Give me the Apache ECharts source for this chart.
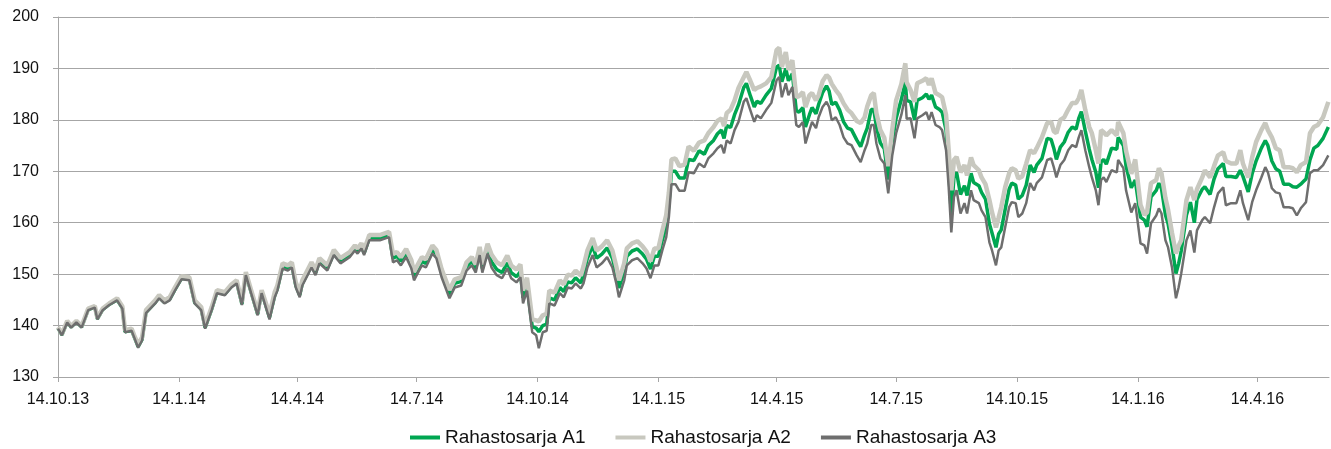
<!DOCTYPE html>
<html>
<head>
<meta charset="utf-8">
<script src="https://cdn.jsdelivr.net/npm/echarts@6/dist/echarts.min.js"></script>
<style>
  html, body { margin: 0; padding: 0; background: #fff; }
  #main { width: 1331px; height: 449px; }
</style>
</head>
<body>
<div id="main"></div>
<script>
// days since 14.10.2013
const startDate = '2013-10-14';
const days = [
    0, 3, 7, 10, 14, 18, 23, 28, 30, 34,
    39, 45, 49, 51, 56, 58, 61, 64, 67, 74,
    77, 81, 85, 89, 94, 100, 104, 109, 112, 117,
    121, 127, 132, 136, 140, 143, 147, 152, 155, 161,
    165, 167, 171, 175, 178, 181, 184, 186, 193, 196,
    199, 205, 210, 215, 222, 226, 228, 231, 233, 237,
    245, 252, 255, 258, 261, 265, 269, 271, 274, 277,
    280, 285, 288, 292, 298, 302, 307, 311, 315, 318,
    321, 323, 327, 330, 334, 338, 342, 345, 349, 352,
    354, 357, 361, 364, 366, 369, 372, 374, 378, 382,
    385, 388, 391, 394, 398, 400, 403, 407, 410, 414,
    418, 422, 425, 427, 431, 433, 437, 441, 445, 448,
    451, 454, 457, 460, 463, 465, 467, 470, 473, 477,
    480, 484, 488, 492, 495, 499, 502, 505, 507, 509,
    512, 515, 518, 522, 524, 527, 530, 532, 535, 539,
    543, 547, 549, 551, 554, 556, 559, 562, 564, 567,
    569, 572, 574, 577, 579, 582, 585, 587, 589, 592,
    595, 598, 601, 604, 608, 611, 614, 616, 619, 621,
    623, 626, 629, 632, 635, 638, 642, 645, 646, 649,
    652, 654, 658, 661, 663, 665, 668, 671, 673, 676,
    678, 680, 682, 684, 687, 690, 692, 695, 697, 701,
    703, 706, 709, 711, 714, 716, 718, 721, 724, 726,
    729, 731, 734, 737, 740, 743, 745, 749, 753, 756,
    758, 760, 763, 766, 769, 772, 775, 777, 779, 782,
    785, 787, 790, 792, 794, 796, 798, 802, 806, 807,
    811, 813, 817, 820, 824, 827, 829, 832, 836, 838,
    840, 843, 845, 848, 851, 853, 855, 859, 862, 865,
    867, 871, 873, 877, 880, 883, 887, 889, 893, 897,
    900, 902, 906, 909, 912, 916, 919, 921, 924, 927,
    930, 933, 937, 940, 943, 946, 948, 950, 953, 956,
    959, 963, 967
];

const seriesA1 = [
    139.5, 138.2, 140.7, 139.7, 140.7, 139.7, 143.1, 143.6, 141.3, 143.1,
    144.1, 145.0, 143.4, 138.8, 139.1, 137.8, 135.9, 137.3, 142.6, 144.5,
    145.5, 144.5, 145.1, 147.0, 149.2, 149.0, 144.5, 143.2, 139.6, 143.2,
    146.5, 146.1, 147.6, 148.4, 144.2, 150.0, 146.5, 142.2, 146.5, 141.6,
    145.9, 147.2, 151.5, 151.1, 151.7, 147.8, 145.9, 148.2, 151.7, 150.2,
    152.5, 151.1, 154.1, 152.5, 153.7, 155.0, 154.4, 155.4, 154.1, 157.0,
    157.0, 157.6, 153.1, 153.5, 152.5, 154.1, 151.9, 149.6, 151.1, 152.5,
    152.1, 154.8, 153.9, 150.2, 146.1, 148.2, 148.6, 151.5, 152.5, 151.1,
    154.5, 151.1, 154.8, 152.4, 150.9, 150.3, 152.2, 150.3, 149.5, 150.5,
    145.4, 147.9, 139.8, 139.5, 138.8, 140.0, 140.3, 145.4, 145.0, 147.4,
    146.6, 148.5, 148.3, 149.3, 148.3, 150.0, 153.1, 155.5, 153.1, 153.9,
    155.1, 153.1, 150.0, 147.3, 150.6, 153.5, 154.5, 154.9, 153.9, 152.9,
    151.0, 153.5, 153.5, 156.6, 159.4, 163.5, 170.0, 170.0, 168.7, 168.7,
    172.3, 172.1, 174.0, 173.3, 175.0, 176.0, 177.3, 178.0, 176.4, 178.9,
    178.5, 181.0, 182.9, 186.3, 187.1, 184.7, 182.5, 183.6, 183.2, 184.8,
    186.1, 190.3, 190.6, 187.4, 190.0, 187.6, 189.0, 181.8, 181.5, 182.4,
    178.6, 181.0, 182.4, 181.2, 183.0, 185.3, 186.6, 185.6, 183.0, 183.4,
    181.9, 179.6, 178.4, 178.1, 176.1, 174.8, 177.1, 178.4, 182.0, 182.0,
    178.6, 175.5, 174.4, 168.4, 175.8, 180.3, 184.0, 187.4, 183.8, 183.5,
    180.0, 183.8, 184.3, 185.0, 184.0, 184.8, 182.5, 182.0, 181.5, 178.0,
    170.5, 161.5, 168.8, 169.8, 165.5, 167.2, 165.3, 169.6, 167.8, 167.2,
    165.9, 164.6, 159.8, 158.0, 155.2, 157.8, 158.6, 162.6, 166.5, 167.7,
    167.3, 164.6, 165.3, 167.3, 171.2, 169.8, 171.2, 172.5, 176.4, 176.2,
    174.5, 172.3, 174.7, 175.7, 177.6, 178.6, 178.2, 180.3, 181.6, 177.8,
    174.3, 172.3, 169.8, 166.8, 171.8, 172.3, 171.4, 174.5, 174.3, 176.6,
    175.0, 171.0, 166.8, 168.3, 161.1, 160.5, 159.2, 165.0, 166.3, 167.7,
    166.6, 161.5, 159.8, 155.5, 150.1, 152.0, 154.5, 161.5, 164.0, 160.0,
    164.5, 166.5, 167.0, 165.5, 168.5, 170.5, 171.5, 169.0, 169.0, 168.8,
    170.2, 169.0, 166.0, 169.5, 172.0, 174.5, 176.0, 175.0, 172.0, 170.5,
    170.0, 167.5, 167.5, 167.0, 166.9, 167.5, 168.0, 168.5, 172.2, 174.5,
    175.0, 176.4, 178.6
];

const seriesA2 = [
    139.7, 138.4, 140.9, 139.9, 140.9, 139.9, 143.3, 143.8, 141.5, 143.3,
    144.3, 145.3, 143.7, 139.1, 139.4, 138.1, 136.3, 137.7, 143.0, 144.9,
    145.9, 144.9, 145.5, 147.4, 149.6, 149.4, 144.9, 143.6, 140.0, 143.6,
    146.9, 146.5, 148.0, 148.8, 144.6, 150.4, 146.9, 142.6, 146.9, 142.2,
    146.5, 147.8, 152.1, 151.7, 152.3, 148.4, 146.5, 148.8, 152.3, 150.8,
    153.1, 151.7, 154.7, 153.1, 154.3, 155.6, 155.0, 156.0, 154.7, 157.6,
    157.6, 158.2, 153.9, 154.3, 153.3, 154.9, 152.7, 150.4, 151.9, 153.3,
    152.9, 155.6, 154.7, 151.0, 146.9, 149.0, 149.4, 152.3, 153.3, 151.9,
    155.3, 151.9, 155.9, 153.8, 152.3, 151.7, 153.6, 151.7, 150.9, 151.9,
    146.8, 149.3, 141.2, 141.0, 140.8, 142.0, 142.3, 146.8, 146.4, 148.8,
    148.0, 149.9, 149.7, 150.7, 149.7, 151.5, 154.6, 157.0, 154.6, 155.4,
    156.6, 154.6, 151.5, 148.8, 152.1, 155.0, 156.0, 156.4, 155.4, 154.4,
    152.5, 155.0, 155.0, 158.4, 161.5, 165.8, 172.3, 172.5, 171.0, 171.3,
    174.8, 174.0, 175.6, 176.0, 177.4, 178.6, 179.8, 180.3, 178.8, 181.3,
    182.0, 183.8, 186.2, 188.3, 189.3, 187.6, 185.8, 186.2, 186.5, 187.1,
    188.3, 193.6, 194.0, 190.3, 193.2, 189.7, 191.6, 184.4, 184.6, 185.4,
    182.5, 184.8, 185.2, 183.8, 184.8, 187.5, 188.7, 188.2, 187.0, 185.8,
    184.8, 183.2, 182.0, 181.3, 179.8, 179.4, 180.5, 182.6, 184.8, 185.2,
    181.3, 178.0, 176.5, 171.0, 178.0, 183.8, 187.0, 191.0, 187.3, 185.8,
    183.5, 187.1, 187.6, 188.1, 186.8, 188.1, 185.2, 184.8, 184.4, 181.0,
    174.1, 166.3, 172.2, 172.8, 169.8, 171.2, 169.2, 172.7, 171.2, 170.2,
    168.8, 167.5, 164.4, 162.0, 159.1, 161.0, 163.0, 166.9, 169.6, 170.6,
    170.2, 168.6, 169.0, 171.5, 174.1, 173.5, 174.5, 176.6, 179.4, 179.6,
    177.8, 177.4, 180.0, 180.5, 182.0, 183.3, 183.3, 184.2, 185.8, 181.9,
    178.6, 177.4, 174.1, 171.5, 178.0, 177.6, 177.0, 178.0, 177.0, 179.6,
    177.4, 174.0, 169.5, 172.3, 163.5, 161.5, 162.0, 167.7, 168.3, 170.6,
    169.6, 164.8, 162.5, 158.0, 154.0, 155.5, 156.6, 164.4, 166.9, 164.4,
    166.5, 168.8, 170.2, 168.8, 171.0, 173.1, 173.7, 172.0, 171.5, 171.5,
    174.1, 171.5, 168.8, 172.7, 175.7, 178.0, 179.4, 178.0, 176.6, 174.5,
    174.1, 170.8, 170.8, 170.6, 169.8, 171.2, 171.5, 171.8, 177.4, 178.6,
    179.0, 180.5, 183.5
];

const seriesA3 = [
    139.4, 138.1, 140.6, 139.6, 140.6, 139.6, 143.0, 143.5, 141.2, 143.0,
    144.0, 144.9, 143.3, 138.7, 139.0, 137.7, 135.7, 137.1, 142.4, 144.3,
    145.3, 144.3, 144.9, 146.8, 149.0, 148.8, 144.3, 143.0, 139.4, 143.0,
    146.3, 145.9, 147.4, 148.2, 144.0, 149.8, 146.3, 142.0, 146.3, 141.2,
    145.5, 146.8, 151.1, 150.7, 151.3, 147.4, 145.5, 147.8, 151.3, 149.8,
    152.1, 150.7, 153.7, 152.1, 153.3, 154.6, 154.0, 155.0, 153.7, 156.6,
    156.6, 157.2, 152.3, 152.7, 151.7, 153.3, 151.1, 148.8, 150.3, 151.7,
    151.3, 154.0, 153.1, 149.4, 145.3, 147.4, 147.8, 150.7, 151.7, 150.3,
    153.7, 150.3, 154.0, 151.3, 149.8, 149.2, 151.1, 149.2, 148.4, 149.4,
    144.3, 146.8, 138.7, 138.1, 135.6, 138.7, 139.0, 144.3, 143.9, 146.3,
    145.5, 147.4, 147.2, 148.2, 147.2, 148.2, 151.3, 153.7, 151.3, 152.1,
    153.3, 151.3, 148.2, 145.5, 148.8, 151.7, 152.7, 153.1, 152.1, 151.1,
    149.2, 151.7, 151.7, 154.6, 157.2, 161.1, 167.5, 167.5, 166.2, 166.2,
    169.8, 169.6, 171.5, 170.8, 172.5, 173.5, 174.5, 175.1, 173.5, 176.0,
    175.4, 178.0, 179.6, 183.5, 184.2, 181.9, 179.6, 180.9, 180.3, 181.9,
    183.3, 187.7, 188.3, 184.4, 187.1, 184.8, 186.4, 179.0, 178.6, 179.6,
    175.4, 178.0, 179.6, 178.4, 180.5, 182.5, 183.5, 182.5, 179.9, 180.5,
    179.0, 176.6, 175.4, 175.1, 173.1, 171.8, 174.1, 175.4, 179.0, 179.0,
    175.4, 172.5, 171.5, 165.7, 173.0, 177.4, 181.0, 184.8, 180.2, 180.3,
    176.4, 180.3, 180.9, 181.5, 180.0, 181.5, 179.0, 178.6, 178.0, 174.1,
    166.9, 158.1, 165.0, 166.3, 161.8, 163.8, 161.8, 166.3, 164.4, 163.8,
    162.4, 161.1, 156.2, 154.6, 151.7, 154.6, 155.2, 159.1, 163.0, 164.0,
    163.8, 161.1, 161.8, 163.8, 167.7, 166.3, 167.7, 168.8, 172.2, 172.5,
    170.8, 168.8, 171.2, 172.2, 174.1, 175.1, 174.7, 176.6, 178.0, 174.1,
    170.8, 168.8, 166.3, 163.4, 168.3, 168.8, 167.9, 170.2, 169.8, 172.2,
    170.6, 166.3, 162.0, 163.8, 156.0, 155.6, 154.0, 159.9, 161.4, 162.8,
    161.8, 156.6, 155.2, 151.3, 145.3, 147.4, 150.1, 156.6, 158.5, 154.2,
    158.5, 160.5, 161.1, 159.9, 163.0, 165.7, 166.9, 163.4, 163.8, 163.8,
    166.3, 163.8, 160.5, 164.0, 166.3, 168.8, 170.8, 169.8, 166.7, 165.9,
    165.7, 163.0, 163.0, 162.8, 161.4, 162.8, 163.4, 164.0, 169.6, 170.2,
    170.2, 171.2, 173.1
];

const tickDates = [
    '2013-10-14', '2014-01-14', '2014-04-14', '2014-07-14', '2014-10-14', '2015-01-14',
    '2015-04-14', '2015-07-14', '2015-10-14', '2016-01-14', '2016-04-14'
];
const seriesNames = ['Rahastosarja A1', 'Rahastosarja A2', 'Rahastosarja A3'];

const DAY = 24 * 3600 * 1000;
const toTime = (s) => {
    const p = s.split('-');
    return new Date(+p[0], +p[1] - 1, +p[2]).getTime();
};
const t0 = toTime(startDate);
const pairs = (values) => days.map((d, i) => [t0 + d * DAY, values[i]]);
const tickValues = tickDates.map(toTime);

const fontFamily = 'Liberation Sans, Arial, sans-serif';

let myChart = echarts.init(document.getElementById('main'));
let option = {
    animation: false,
    grid: {
        top: 17,
        bottom: 72,
        left: 58,
        right: 2,
    },
    legend: {
        left: 405,
        top: 423,
        icon: 'rect',
        itemWidth: 30,
        itemHeight: 4,
        itemGap: 30,
        data: seriesNames,
        textStyle: {
            fontFamily: fontFamily,
            fontSize: 19,
            color: '#111'
        }
    },
    xAxis: {
        // value axis over timestamps, so the quarter ticks can be placed exactly
        type: 'value',
        min: t0,
        max: t0 + 967.5 * DAY,
        axisLine: {
            lineStyle: { color: '#a6a6a6', width: 1 }
        },
        axisTick: {
            show: true,
            length: 5,
            customValues: tickValues,
            lineStyle: { color: '#a6a6a6' }
        },
        axisLabel: {
            customValues: tickValues,
            margin: 15,
            fontFamily: fontFamily,
            fontSize: 16,
            color: '#111',
            formatter: function (value) {
                const d = new Date(value);
                return d.getDate() + '.' + (d.getMonth() + 1) + '.' + String(d.getFullYear()).slice(2);
            }
        },
        splitLine: { show: false }
    },
    yAxis: {
        type: 'value',
        min: 130,
        max: 200,
        interval: 10,
        axisLine: {
            show: true,
            lineStyle: { color: '#a6a6a6' }
        },
        axisTick: {
            show: true,
            length: 5,
            lineStyle: { color: '#a6a6a6' }
        },
        axisLabel: {
            margin: 19,
            fontFamily: fontFamily,
            fontSize: 16,
            color: '#111'
        },
        splitLine: {
            lineStyle: { color: '#a6a6a6', width: 1 }
        }
    },
    series: [
        {
            name: seriesNames[0],
            type: 'line',
            data: pairs(seriesA1),
            showSymbol: false,
            color: '#00a651',
            lineStyle: { width: 3.5, color: '#00a651' },
            z: 2
        },
        {
            name: seriesNames[1],
            type: 'line',
            data: pairs(seriesA2),
            showSymbol: false,
            color: '#c8c8bf',
            lineStyle: { width: 4.5, color: '#c8c8bf' },
            z: 3
        },
        {
            name: seriesNames[2],
            type: 'line',
            data: pairs(seriesA3),
            showSymbol: false,
            color: '#6e6e6e',
            lineStyle: { width: 2.5, color: '#6e6e6e' },
            z: 4
        }
    ]
};

option && myChart.setOption(option);
</script>
</body>
</html>
